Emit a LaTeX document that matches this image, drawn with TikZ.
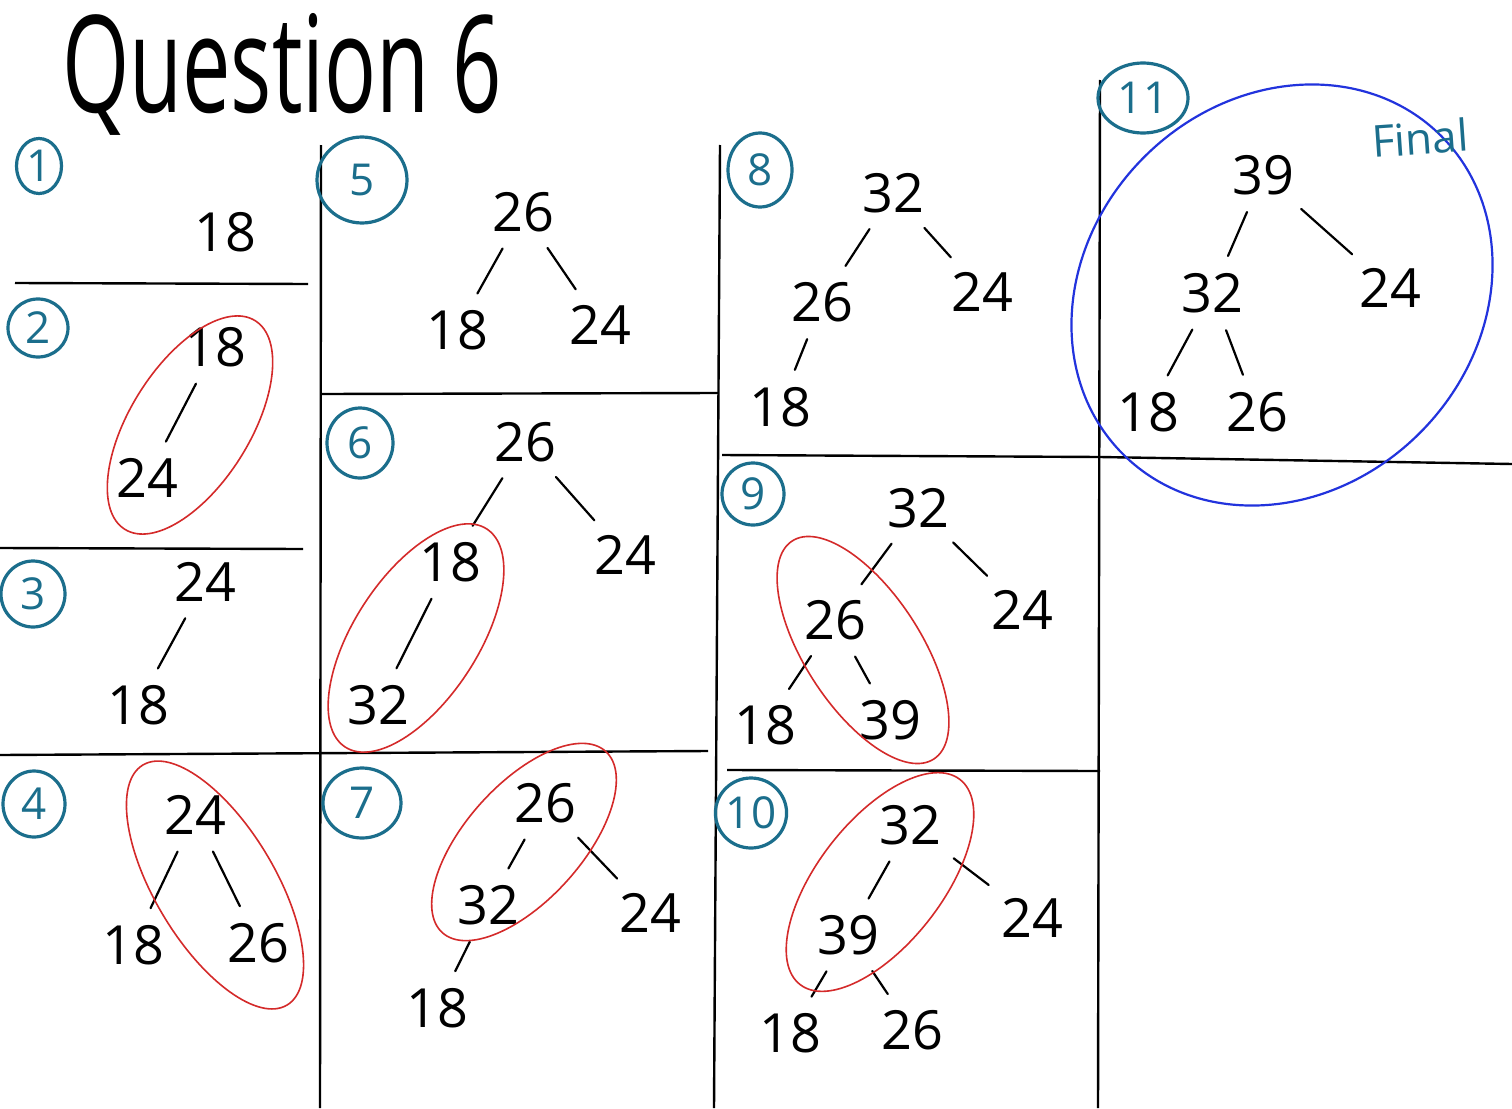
\documentclass[tikz,border=0pt]{standalone}
\usepackage{fontspec}
\setmainfont{Open Sans}
\usetikzlibrary{shapes.geometric}
\definecolor{tealc}{HTML}{1B6E8C}
\definecolor{redc}{HTML}{D42A2A}
\definecolor{bluec}{HTML}{2233DD}
\begin{document}
\begin{tikzpicture}[x=1pt,y=-1pt,
  num/.style={font=\fontsize{54}{60}\selectfont, inner sep=6pt},
  edge/.style={line width=2.2pt, line cap=round, shorten >=12pt, shorten <=12pt},
  rulel/.style={line width=2.4pt},
  cnum/.style={draw=tealc, text=tealc, ellipse, line width=3.2pt, font=\fontsize{44}{50}\selectfont, inner sep=0pt},
  hl/.style={draw=redc, line width=1.6pt},
]
\useasboundingbox[fill=white] (0,0) rectangle (1512,1108);

% title
\node[anchor=west, font=\fontsize{135}{150}\selectfont, xscale=0.64, inner sep=0pt] (title) at (62,74) {Question 6};

% grid lines
\draw[rulel] (321,145) -- (320,1108);
\draw[rulel] (720,145) -- (714,1108);
\draw[rulel] (1100,80) -- (1098,1108);
\draw[rulel] (15,283) -- (308,284);
\draw[rulel] (0,548) -- (303,549);
\draw[rulel] (0,755) -- (708,751);
\draw[rulel] (322,394) -- (718,393);
\draw[rulel] (722,455) -- (1100,457) -- (1512,464);
\draw[rulel] (727,770) -- (1100,771);

% circled step numbers
\node[cnum, minimum width=45pt, minimum height=55pt] (c1) at (39,166) {1};
\node[cnum, minimum width=60pt, minimum height=58pt] (c2) at (38,328) {2};
\node[cnum, minimum width=64pt, minimum height=66pt] (c3) at (33,594) {3};
\node[cnum, minimum width=62pt, minimum height=66pt] (c4) at (34,804) {4};
\node[cnum, minimum width=90pt, minimum height=86pt] (c5) at (362,180) {5};
\node[cnum, minimum width=66pt, minimum height=70pt] (c6) at (360,443) {6};
\node[cnum, minimum width=78pt, minimum height=70pt] (c7) at (362,803) {7};
\node[cnum, minimum width=64pt, minimum height=74pt] (c8) at (760,170) {8};
\node[cnum, minimum width=62pt, minimum height=62pt] (c9) at (753,494) {9};
\node[cnum, minimum width=66pt, minimum height=70pt] (c10) at (751,813) {10};
\node[cnum, minimum width=90pt, minimum height=70pt] (c11) at (1143,98) {11};

% box 1
\node[num] (n1) at (225,232) {18};
% box 2
\node[num] (n2a) at (215,347) {18};
\node[num] (n2b) at (147,478) {24};
\draw[edge] (n2a) -- (n2b);
% box 3
\node[num] (n3a) at (205,582) {24};
\node[num] (n3b) at (138,705) {18};
\draw[edge] (n3a) -- (n3b);
% box 4
\node[num] (n4a) at (195,815) {24};
\node[num] (n4b) at (133,945) {18};
\node[num] (n4c) at (258,943) {26};
\draw[edge] (n4a) -- (n4b);
\draw[edge] (n4a) -- (n4c);
% box 5
\node[num] (n5a) at (523,212) {26};
\node[num] (n5b) at (457,330) {18};
\node[num] (n5c) at (600,325) {24};
\draw[edge] (n5a) -- (n5b);
\draw[edge] (n5a) -- (n5c);
% box 6
\node[num] (n6a) at (525,442) {26};
\node[num] (n6b) at (450,562) {18};
\node[num] (n6c) at (625,555) {24};
\node[num] (n6d) at (378,705) {32};
\draw[edge] (n6a) -- (n6b);
\draw[edge] (n6a) -- (n6c);
\draw[edge] (n6b) -- (n6d);
% box 7
\node[num] (n7a) at (545,803) {26};
\node[num] (n7b) at (488,905) {32};
\node[num] (n7c) at (650,913) {24};
\node[num] (n7d) at (437,1008) {18};
\draw[edge] (n7a) -- (n7b);
\draw[edge] (n7a) -- (n7c);
\draw[edge] (n7b) -- (n7d);
% box 8
\node[num] (n8a) at (893,193) {32};
\node[num] (n8b) at (822,302) {26};
\node[num] (n8c) at (982,292) {24};
\node[num] (n8d) at (780,407) {18};
\draw[edge] (n8a) -- (n8b);
\draw[edge] (n8a) -- (n8c);
\draw[edge] (n8b) -- (n8d);
% box 9
\node[num] (n9a) at (918,508) {32};
\node[num] (n9b) at (835,620) {26};
\node[num] (n9c) at (1022,610) {24};
\node[num] (n9d) at (765,725) {18};
\node[num] (n9e) at (890,720) {39};
\draw[edge] (n9a) -- (n9b);
\draw[edge] (n9a) -- (n9c);
\draw[edge] (n9b) -- (n9d);
\draw[edge] (n9b) -- (n9e);
% box 10
\node[num] (n10a) at (910,825) {32};
\node[num] (n10b) at (848,935) {39};
\node[num] (n10c) at (1032,918) {24};
\node[num] (n10d) at (790,1033) {18};
\node[num] (n10e) at (912,1030) {26};
\draw[edge] (n10a) -- (n10b);
\draw[edge] (n10a) -- (n10c);
\draw[edge] (n10b) -- (n10d);
\draw[edge] (n10b) -- (n10e);
% box 11
\node[num] (n11a) at (1263,175) {39};
\node[num] (n11b) at (1212,293) {32};
\node[num] (n11c) at (1390,288) {24};
\node[num] (n11d) at (1148,412) {18};
\node[num] (n11e) at (1257,412) {26};
\draw[edge] (n11a) -- (n11b);
\draw[edge] (n11a) -- (n11c);
\draw[edge] (n11b) -- (n11d);
\draw[edge] (n11b) -- (n11e);

% red highlight ellipses
\draw[hl, rotate around={58:(190,425)}] (190,425) ellipse (123 and 60);
\draw[hl, rotate around={-59:(215,885)}] (215,885) ellipse (140 and 60);
\draw[hl, rotate around={57:(416,638)}] (416,638) ellipse (130 and 62);
\draw[hl, rotate around={48:(524,842)}] (524,842) ellipse (122 and 58);
\draw[hl, rotate around={-57:(863,650)}] (863,650) ellipse (130 and 58);
\draw[hl, rotate around={52:(880,882)}] (880,882) ellipse (130 and 62);

% final blue circle
\draw[draw=bluec, line width=2.2pt, rotate around={45:(1282,295)}] (1282,295) ellipse (225 and 195);
\node[text=tealc, font=\fontsize{44}{50}\selectfont, rotate=4] (fin) at (1420,138) {Final};
\end{tikzpicture}
\end{document}
